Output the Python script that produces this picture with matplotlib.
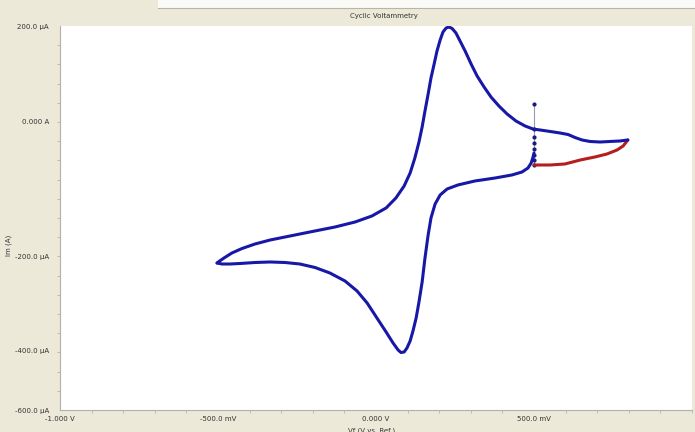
import numpy as np
import matplotlib
matplotlib.use("Agg")
import matplotlib.pyplot as plt
from matplotlib.ticker import FixedLocator
from matplotlib.patches import Rectangle
from matplotlib.lines import Line2D

# ---- data -------------------------------------------------------------
# initial transient at the start potential (V, uA)
start_E = [0.500, 0.500, 0.500, 0.500, 0.500, 0.500, 0.500, 0.500]
start_I = [35.8, -11.8, -23.5, -32.4, -41.2, -50.0, -57.4, -64.7]

# first sweep from the start potential to the upper vertex (V, uA)
sweep1_E = [0.500, 0.551, 0.598, 0.646, 0.693, 0.731, 0.763, 0.782, 0.797]
sweep1_I = [-64.7, -64.7, -63.2, -57.4, -52.9, -48.5, -42.6, -36.8, -27.9]

# return sweep: upper vertex -> lower vertex (V, uA)
sweep2_E = [0.797, 0.772, 0.741, 0.709, 0.677, 0.652, 0.630, 0.608, 0.582,
            0.551, 0.519, 0.497, 0.472, 0.443, 0.415, 0.389, 0.364, 0.342,
            0.320, 0.301, 0.282, 0.266, 0.253, 0.241, 0.231, 0.222, 0.212,
            0.203, 0.193, 0.184, 0.174, 0.165, 0.155, 0.146, 0.136, 0.123,
            0.108, 0.089, 0.063, 0.032, -0.013, -0.066, -0.130, -0.209,
            -0.272, -0.335, -0.383, -0.424, -0.456, -0.481, -0.497, -0.503]
sweep2_I = [-27.9, -29.4, -30.1, -30.9, -30.1, -27.9, -24.3, -19.9, -17.6,
            -15.4, -13.2, -11.8, -7.4, 0.0, 14.7, 31.6, 50.5, 71.6,
            94.7, 120.0, 147.4, 168.4, 185.3, 194.7, 197.9, 195.8, 187.4,
            170.5, 147.4, 120.0, 90.5, 56.8, 21.1, -8.8, -30.9, -54.4,
            -76.5, -95.6, -113.2, -127.9, -139.7, -148.5, -155.9, -163.2,
            -169.1, -175.0, -180.9, -187.5, -194.1, -202.1, -209.6, -212.8]

# final sweep: lower vertex -> start potential (V, uA)
sweep3_E = [-0.503, -0.487, -0.462, -0.430, -0.383, -0.335, -0.288, -0.241,
            -0.193, -0.146, -0.098, -0.060, -0.028, 0.003, 0.032, 0.054,
            0.070, 0.079, 0.089, 0.098, 0.108, 0.117, 0.127, 0.136, 0.146,
            0.155, 0.165, 0.174, 0.187, 0.203, 0.225, 0.259, 0.313, 0.377,
            0.430, 0.462, 0.481, 0.491, 0.497, 0.500]
sweep3_I = [-212.8, -214.9, -214.9, -213.8, -211.7, -210.6, -211.7, -214.9,
            -222.3, -234.0, -251.1, -272.3, -297.9, -329.8, -359.6, -383.0,
            -397.9, -405.1, -403.4, -393.6, -378.7, -357.4, -329.8, -295.7,
            -253.2, -202.1, -167.6, -142.6, -122.1, -108.8, -100.0, -94.1,
            -88.2, -83.8, -79.4, -75.0, -69.1, -61.8, -52.9, -47.1]

x_major = [-1.0, -0.5, 0.0, 0.5]
x_major_labels = ["-1.000 V", "-500.0 mV", "0.000 V", "500.0 mV"]
y_major = [-600, -400, -200, 0, 200]
y_major_labels = ["-600.0 \u00b5A", "-400.0 \u00b5A", "-200.0 \u00b5A", "0.000 A", "200.0 \u00b5A"]

# ---- current axis scale (piecewise linear between labelled values) ----
_yv = np.array([-600.0, -400.0, -200.0, 0.0, 200.0])
_yp = np.array([0.0, 59.0, 153.0, 289.0, 384.0])


def _fwd(v):
    v = np.asarray(v, dtype=float)
    out = np.interp(v, _yv, _yp)
    lo = v < _yv[0]
    hi = v > _yv[-1]
    out = np.where(lo, _yp[0] + (v - _yv[0]) * (_yp[1] - _yp[0]) / (_yv[1] - _yv[0]), out)
    out = np.where(hi, _yp[-1] + (v - _yv[-1]) * (_yp[-1] - _yp[-2]) / (_yv[-1] - _yv[-2]), out)
    return out


def _inv(p):
    p = np.asarray(p, dtype=float)
    out = np.interp(p, _yp, _yv)
    lo = p < _yp[0]
    hi = p > _yp[-1]
    out = np.where(lo, _yv[0] + (p - _yp[0]) * (_yv[1] - _yv[0]) / (_yp[1] - _yp[0]), out)
    out = np.where(hi, _yv[-1] + (p - _yp[-1]) * (_yv[-1] - _yv[-2]) / (_yp[-1] - _yp[-2]), out)
    return out


# ---- figure -----------------------------------------------------------
BG = "#ECE9D8"
W, H = 695, 432
fig = plt.figure(figsize=(W / 100, H / 100), dpi=100, facecolor=BG)

# title strip
fig.patches.append(Rectangle((158 / W, 1 - 8 / H), 1, 8 / H, transform=fig.transFigure,
                             facecolor="#FAFAF7", edgecolor="none", zorder=0))
fig.add_artist(Line2D([158 / W, 1], [1 - 8 / H, 1 - 8 / H], transform=fig.transFigure,
                      color="#B8B5A8", lw=0.8))
fig.text(384 / W, 1 - 16 / H, "Cyclic Voltammetry", ha="center", va="center",
         fontsize=5, color="#333333", family="DejaVu Sans")

ax = fig.add_axes([60 / W, (H - 410) / H, (692 - 60) / W, (410 - 26) / H])
ax.set_facecolor("white")
ax.set_yscale("function", functions=(_fwd, _inv))
ax.set_xlim(-1.0, 1.0)
ax.set_ylim(-600, 200)

blue = "#1717A8"
red = "#B41E1E"

ax.plot(start_E, start_I, color="#9A9AB0", lw=0.8, zorder=2)
ax.plot(start_E, start_I, ls="none", marker="o", ms=2.0, color="#1A1A80", zorder=3)
ax.plot(sweep1_E, sweep1_I, color=red, lw=2.2, solid_capstyle="round",
        solid_joinstyle="round", zorder=3)
ax.plot(sweep2_E, sweep2_I, color=blue, lw=2.2, solid_capstyle="round",
        solid_joinstyle="round", zorder=4)
ax.plot(sweep3_E, sweep3_I, color=blue, lw=2.2, solid_capstyle="round",
        solid_joinstyle="round", zorder=4)

# ticks
ax.xaxis.set_major_locator(FixedLocator(x_major))
ax.set_xticklabels(x_major_labels)
ax.xaxis.set_minor_locator(FixedLocator(np.round(np.arange(-1.0, 1.0001, 0.1), 3)))
ax.yaxis.set_major_locator(FixedLocator(y_major))
ax.set_yticklabels(y_major_labels)
minor_pix = np.linspace(0, 384, 21)
ax.yaxis.set_minor_locator(FixedLocator(_inv(minor_pix)))

for axis in (ax.xaxis, ax.yaxis):
    for lab in axis.get_ticklabels():
        lab.set_fontsize(5)
        lab.set_color("#333333")
ax.tick_params(which="both", direction="out", length=2.5, width=0.5, color="#A8A8A8",
               pad=1.5)
ax.tick_params(axis="x", which="major", length=0, pad=4)
ax.tick_params(axis="y", which="major", length=0, pad=8)

for side in ("top", "right"):
    ax.spines[side].set_visible(False)
for side in ("left", "bottom"):
    ax.spines[side].set_color("#B0B0B0")
    ax.spines[side].set_linewidth(0.8)

ax.set_xlabel("Vf (V vs. Ref.)", fontsize=5, color="#333333")
ax.xaxis.set_label_coords((372 - 60) / (692 - 60), -17 / 384)
ax.set_ylabel("Im (A)", fontsize=5, color="#333333")
ax.yaxis.set_label_coords(-48 / 632, (410 - 245) / 384)

fig.savefig("out.png", dpi=100, facecolor=BG)
